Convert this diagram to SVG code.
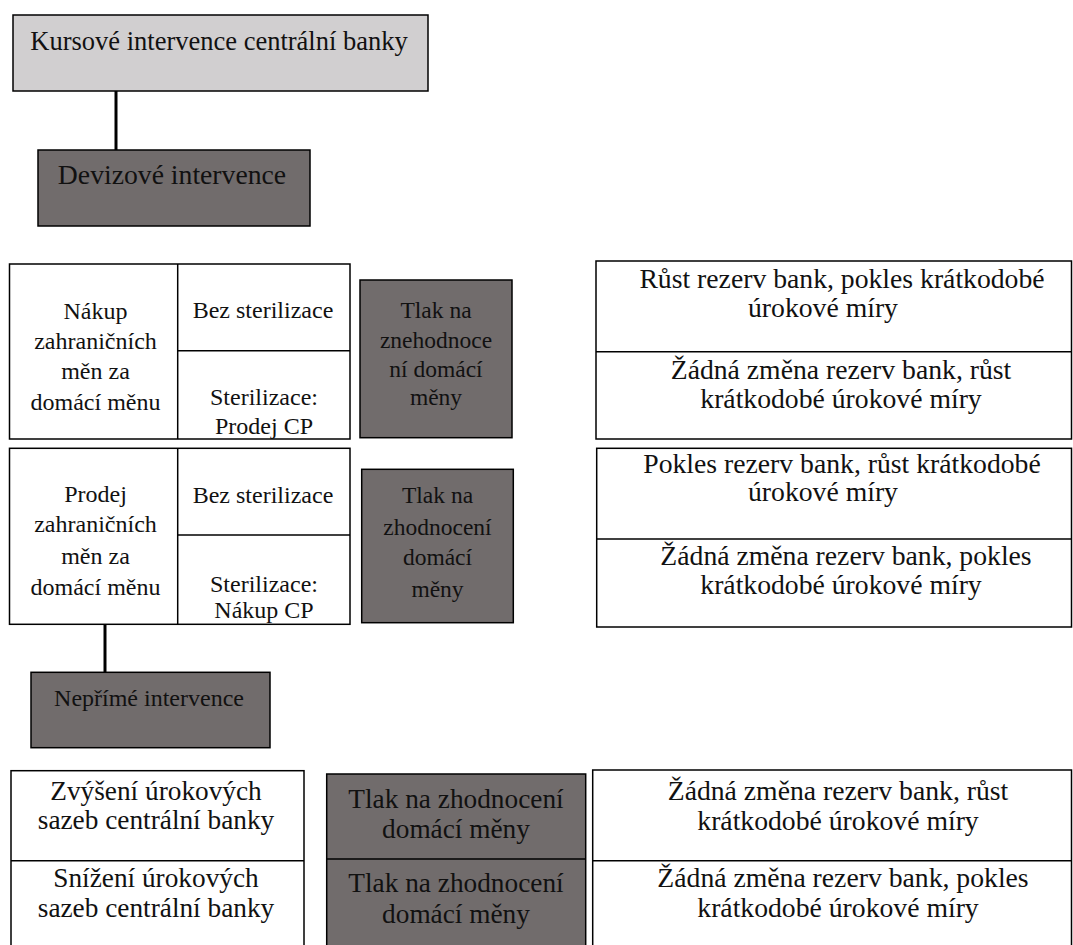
<svg xmlns="http://www.w3.org/2000/svg" width="1073" height="945" viewBox="0 0 1073 945">
<style>
.box{stroke:#000;stroke-width:1.5;fill:#fff}
.light{fill:#d1cfd0}
.dark{fill:#716c6c}
.div{stroke:#000;stroke-width:1.5;fill:none}
.conn{stroke:#000;stroke-width:3;fill:none}
text{font-family:'Liberation Serif','DejaVu Serif',serif;fill:#111;text-anchor:middle}
.f24{font-size:24px}
.f235{font-size:23.5px}
.f265{font-size:26.5px}
.f27{font-size:27.3px}
.f275{font-size:27.7px}
</style>
<rect width="1073" height="945" fill="#fff"/>
<g id="connectors">
<line class="conn" x1="116" y1="91" x2="116" y2="150"/>
<line class="conn" x1="105" y1="624" x2="105" y2="672"/>
</g>
<g font-family="Liberation Serif, DejaVu Serif, serif">
<g id="kursove">
<rect class="box light" x="13" y="15" width="415" height="76"/>
<text class="f265" x="219" y="50">Kursové intervence centrální banky</text>
</g>
<g id="devizove">
<rect class="box dark" x="38" y="150" width="272" height="76"/>
<text class="f275" x="172" y="184">Devizové intervence</text>
</g>
<g id="nakup">
<rect class="box" x="9.5" y="264" width="340.5" height="175"/>
<line class="div" x1="177.7" y1="264" x2="177.7" y2="439"/>
<line class="div" x1="177.7" y1="350.7" x2="350" y2="350.7"/>
<text class="f24" x="95.5" y="319">Nákup</text>
<text class="f24" x="95.5" y="348.5">zahraničních</text>
<text class="f24" x="95.5" y="379">měn za</text>
<text class="f24" x="95.5" y="409.5">domácí měnu</text>
<text class="f24" x="263" y="318">Bez sterilizace</text>
<text class="f24" x="264" y="405">Sterilizace:</text>
<text class="f24" x="264" y="433.5">Prodej CP</text>
</g>
<g id="tlak1">
<rect class="box dark" x="360" y="280" width="152" height="157.7"/>
<text class="f235" x="436" y="318">Tlak na</text>
<text class="f235" x="436" y="348">znehodnoce</text>
<text class="f235" x="436" y="377">ní domácí</text>
<text class="f235" x="436" y="405">měny</text>
</g>
<g id="vysledek1">
<rect class="box" x="596" y="261" width="475.5" height="178"/>
<line class="div" x1="596" y1="351.7" x2="1071.5" y2="351.7"/>
<text class="f275" x="842" y="288">Růst rezerv bank, pokles krátkodobé</text>
<text class="f275" x="823" y="317">úrokové míry</text>
<text class="f275" x="841" y="379">Žádná změna rezerv bank, růst</text>
<text class="f275" x="841" y="408">krátkodobé úrokové míry</text>
</g>
<g id="prodej">
<rect class="box" x="9.5" y="448.3" width="340.5" height="176"/>
<line class="div" x1="177.7" y1="448.3" x2="177.7" y2="624.3"/>
<line class="div" x1="177.7" y1="535" x2="350" y2="535"/>
<text class="f24" x="95.5" y="502">Prodej</text>
<text class="f24" x="95.5" y="532">zahraničních</text>
<text class="f24" x="95.5" y="564">měn za</text>
<text class="f24" x="95.5" y="595">domácí měnu</text>
<text class="f24" x="263" y="503.3">Bez sterilizace</text>
<text class="f24" x="264" y="591.7">Sterilizace:</text>
<text class="f24" x="264" y="618.3">Nákup CP</text>
</g>
<g id="tlak2">
<rect class="box dark" x="361.7" y="469.3" width="151.6" height="153.4"/>
<text class="f235" x="437.5" y="503">Tlak na</text>
<text class="f235" x="437.5" y="535">zhodnocení</text>
<text class="f235" x="437.5" y="565">domácí</text>
<text class="f235" x="437.5" y="596.7">měny</text>
</g>
<g id="vysledek2">
<rect class="box" x="596.7" y="448.3" width="474.8" height="178.7"/>
<line class="div" x1="596.7" y1="539" x2="1071.5" y2="539"/>
<text class="f275" x="842" y="473">Pokles rezerv bank, růst krátkodobé</text>
<text class="f275" x="823" y="501">úrokové míry</text>
<text class="f275" x="846" y="565">Žádná změna rezerv bank, pokles</text>
<text class="f275" x="841" y="594">krátkodobé úrokové míry</text>
</g>
<g id="neprime">
<rect class="box dark" x="31" y="672.3" width="239" height="75.4"/>
<text class="f24" x="149" y="705.7">Nepřímé intervence</text>
</g>
<g id="sazby">
<rect class="box" x="11" y="770.7" width="293" height="185"/>
<line class="div" x1="11" y1="860.7" x2="304" y2="860.7"/>
<text class="f27" x="156" y="800">Zvýšení úrokových</text>
<text class="f27" x="156" y="829">sazeb centrální banky</text>
<text class="f27" x="156" y="887">Snížení úrokových</text>
<text class="f27" x="156" y="917">sazeb centrální banky</text>
</g>
<g id="tlak3">
<rect class="box dark" x="326.7" y="774" width="259" height="185"/>
<line class="div" x1="326.7" y1="859" x2="585.7" y2="859"/>
<text class="f27" x="456" y="808">Tlak na zhodnocení</text>
<text class="f27" x="456" y="838">domácí měny</text>
<text class="f27" x="456" y="891.7">Tlak na zhodnocení</text>
<text class="f27" x="456" y="922.7">domácí měny</text>
</g>
<g id="vysledek3">
<rect class="box" x="592.7" y="770" width="478.8" height="185"/>
<line class="div" x1="592.7" y1="860.7" x2="1071.5" y2="860.7"/>
<text class="f275" x="838" y="800">Žádná změna rezerv bank, růst</text>
<text class="f275" x="838" y="830">krátkodobé úrokové míry</text>
<text class="f275" x="843" y="887">Žádná změna rezerv bank, pokles</text>
<text class="f275" x="838" y="917">krátkodobé úrokové míry</text>
</g>
</g>
</svg>
